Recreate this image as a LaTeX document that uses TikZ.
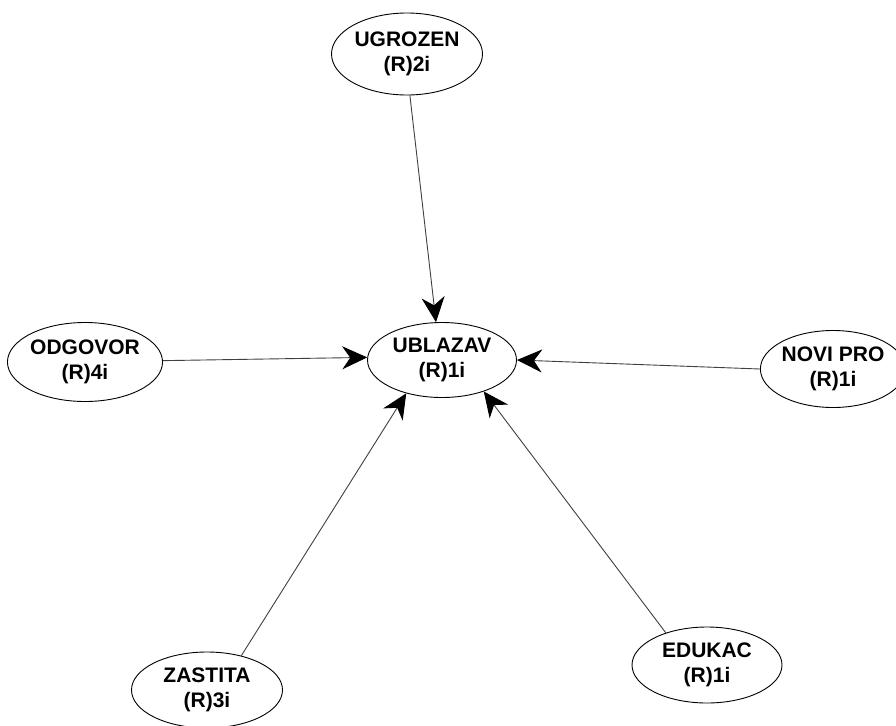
\documentclass[tikz,border=0pt]{standalone}
\usepackage{fontspec}
\setmainfont{Liberation Sans}
\usetikzlibrary{shapes.geometric,arrows.meta}
\tikzset{
  construct/.style={ellipse, draw=black, line width=0.9pt, fill=white,
    inner sep=0pt, align=center,
    font=\fontsize{21}{25}\selectfont\bfseries},
  path/.style={draw=black!75, line width=0.9pt,
    -{Stealth[length=25pt, width=23pt, inset=8pt, color=black, fill=black]}}
}
\begin{document}
\begin{tikzpicture}[x=1pt, y=-1pt]
  \clip (0,0) rectangle (896,725);
  \fill[white] (0,0) rectangle (896,725);

  % latent constructs
  \node[construct, minimum width=151pt, minimum height=82pt] (ugrozen) at (407,54)  {UGROZEN\\(R)2i};
  \node[construct, minimum width=149pt, minimum height=75pt] (ublazav) at (442,360) {UBLAZAV\\(R)1i};
  \node[construct, minimum width=150pt, minimum height=79pt] (odgovor) at (85,362)  {ODGOVOR\\(R)4i};
  \node[construct, minimum width=128pt, minimum height=77pt] (novipro) at (833,369) {NOVI PRO\\(R)1i};
  \node[construct, minimum width=151pt, minimum height=76pt] (zastita) at (207,690) {ZASTITA\\(R)3i};
  \node[construct, minimum width=150pt, minimum height=76pt] (edukac)  at (707,665) {EDUKAC\\(R)1i};

  % structural paths into UBLAZAV
  \draw[path] (ugrozen.-86)  -- (ublazav.99);
  \draw[path] (odgovor.1.5)  -- (ublazav.178.5);
  \draw[path] (novipro.180)  -- (ublazav.0);
  \draw[path] (zastita.45)   -- (ublazav.223);
  \draw[path] (edukac.142)   -- (ublazav.323.6);
\end{tikzpicture}
\end{document}
